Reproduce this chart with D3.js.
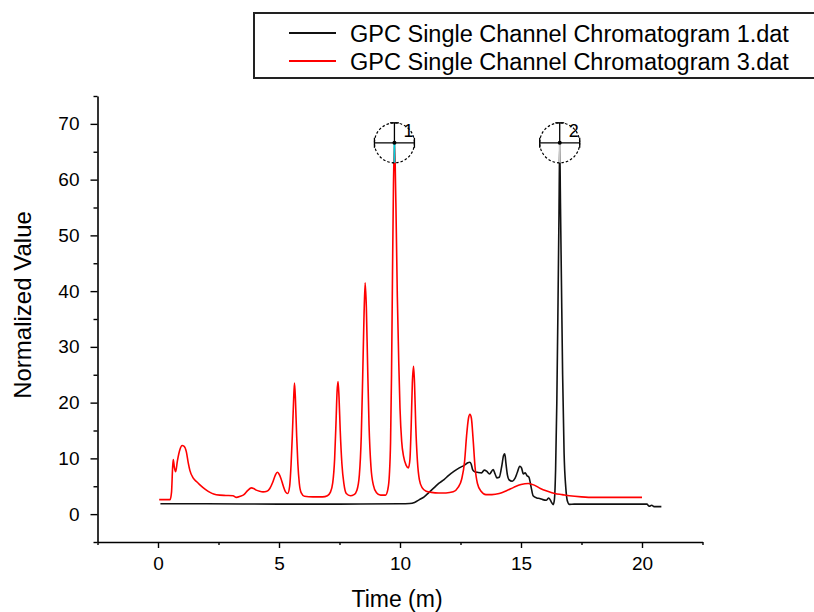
<!DOCTYPE html>
<html>
<head>
<meta charset="utf-8">
<script src="https://cdn.jsdelivr.net/npm/d3@7/dist/d3.min.js"></script>
<style>
  html, body { margin: 0; padding: 0; background: #fff; }
  svg { display: block; }
  text { font-family: "Liberation Sans", Arial, sans-serif; fill: #000; }
</style>
</head>
<body>
<svg id="chart" width="814" height="612"></svg>
<script>
// ---------- data ----------
const seriesNames = ["GPC Single Channel Chromatogram 1.dat", "GPC Single Channel Chromatogram 3.dat"];

const blackTime = [0.1, 2, 5, 7.5, 10, 10.4, 10.6, 10.8, 11.0, 11.2, 11.4, 11.6, 11.82, 12.0, 12.24, 12.45, 12.67, 12.8, 12.88, 12.94, 13.0, 13.09, 13.2, 13.37, 13.48, 13.58, 13.7, 13.85, 13.93, 14.0, 14.1, 14.2, 14.28, 14.33, 14.38, 14.44, 14.5, 14.64, 14.75, 14.85, 14.95, 15.02, 15.1, 15.17, 15.25, 15.33, 15.42, 15.5, 15.65, 15.77, 15.9, 16.05, 16.15, 16.25, 16.33, 16.38, 16.43, 16.48, 16.53, 16.57, 16.6, 16.63, 16.67, 16.72, 16.78, 16.85, 16.92, 17.0, 17.2, 18.0, 19.0, 20.2, 20.3, 20.4, 20.5, 20.8];
const blackValue = [1.85, 1.85, 1.8, 1.8, 1.85, 1.9, 2.1, 2.6, 3.1, 3.9, 4.7, 5.5, 6.2, 6.9, 7.7, 8.3, 8.8, 9.2, 9.3, 9.0, 8.0, 7.6, 7.5, 7.4, 7.9, 7.7, 7.2, 8.0, 7.2, 6.5, 6.6, 8.5, 10.5, 10.8, 9.0, 7.0, 6.2, 5.9, 6.4, 7.5, 8.6, 8.3, 7.2, 7.4, 6.9, 6.6, 4.8, 3.3, 2.9, 2.8, 2.6, 2.5, 2.9, 2.2, 1.7, 2.6, 8, 20, 38, 54, 66.6, 56, 42, 25, 11, 4.8, 2.3, 1.75, 1.8, 1.8, 1.8, 1.8, 1.4, 1.6, 1.35, 1.35];

const redTime = [0.05, 0.5, 0.56, 0.6, 0.63, 0.68, 0.73, 0.8, 0.9, 1.0, 1.07, 1.17, 1.25, 1.32, 1.45, 1.6, 1.72, 1.85, 2.0, 2.15, 2.3, 2.55, 2.8, 3.1, 3.24, 3.4, 3.55, 3.7, 3.86, 3.95, 4.06, 4.2, 4.34, 4.5, 4.62, 4.75, 4.85, 4.93, 5.0, 5.08, 5.18, 5.27, 5.36, 5.44, 5.5, 5.55, 5.6, 5.64, 5.68, 5.73, 5.78, 5.84, 5.92, 6.05, 6.4, 6.8, 7.0, 7.12, 7.22, 7.3, 7.36, 7.4, 7.44, 7.48, 7.53, 7.6, 7.68, 7.78, 7.95, 8.1, 8.22, 8.32, 8.4, 8.46, 8.51, 8.56, 8.61, 8.66, 8.72, 8.8, 8.9, 9.02, 9.2, 9.4, 9.5, 9.56, 9.61, 9.65, 9.69, 9.73, 9.77, 9.8, 9.84, 9.89, 9.95, 10.0, 10.07, 10.15, 10.25, 10.35, 10.41, 10.46, 10.51, 10.56, 10.6, 10.65, 10.72, 10.8, 10.92, 11.08, 11.3, 11.6, 11.9, 12.2, 12.4, 12.55, 12.67, 12.75, 12.83, 12.89, 12.95, 13.02, 13.1, 13.2, 13.35, 13.55, 13.8, 14.1, 14.4, 14.7, 15.0, 15.3, 15.55, 15.8, 16.1, 16.4, 16.7, 17.0, 17.5, 18.0, 19.0, 20.0];
const redValue = [2.6, 2.6, 4, 8, 9.8, 8.3, 7.6, 9.5, 11.5, 12.3, 12.2, 11.2, 9.2, 7.8, 6.5, 5.8, 5.3, 4.8, 4.3, 3.9, 3.6, 3.4, 3.35, 3.3, 3.0, 3.2, 3.5, 4.2, 4.7, 4.6, 4.3, 4.1, 4.0, 4.1, 4.6, 5.8, 7.0, 7.5, 7.2, 6.4, 5.0, 4.0, 3.7, 5.0, 9, 14, 20, 23.5, 20.5, 14, 9, 5.5, 3.8, 3.2, 3.1, 3.1, 3.3, 3.9, 5.6, 10, 17, 22, 23.8, 21, 15, 9, 5.5, 3.7, 3.3, 3.5, 4.3, 7, 14, 25, 35, 41.5, 37, 27, 16, 8.5, 5.2, 3.9, 3.4, 3.4, 4.5, 7, 13, 25, 43, 59, 66.6, 63, 53, 39, 27, 19, 13, 10.3, 8.8, 8.3, 9.8, 15.5, 23.5, 26.5, 23.5, 16, 9.5, 6.2, 4.7, 4.1, 3.9, 3.8, 3.8, 4.0, 4.8, 6.3, 9.5, 14, 17.2, 17.9, 17.2, 13.5, 8.5, 5.5, 4.1, 3.5, 3.5, 3.7, 4.2, 4.8, 5.3, 5.5, 5.2, 4.6, 4.1, 3.7, 3.5, 3.3, 3.1, 3.0, 3.0, 3.0];

const peakLabels = ["1", "2"];
const peakTime = [9.77, 16.6];
const peakValue = [66.6, 66.6];

const xMajorTicks = [0, 5, 10, 15, 20];
const xMinorTicks = [-2.5, 2.5, 7.5, 12.5, 17.5, 22.5];
const yMajorTicks = [0, 10, 20, 30, 40, 50, 60, 70];
const yMinorTicks = [-5, 5, 15, 25, 35, 45, 55, 65, 75];

const xTitle = "Time (m)";
const yTitle = "Normalized Value";

// ---------- drawing ----------
const svg = d3.select("#chart");
const x = d3.scaleLinear().domain([-2.5, 22.5]).range([97.5, 702.5]);
const y = d3.scaleLinear().domain([-5, 75]).range([542, 96]);

// axes
const gx = svg.append("g").attr("transform", `translate(0,${y(-5)})`);
gx.call(d3.axisBottom(x).tickValues(xMajorTicks).tickSize(6).tickSizeOuter(0).tickPadding(9).tickFormat(d3.format("d")));
const gxm = svg.append("g").attr("transform", `translate(0,${y(-5)})`);
gxm.call(d3.axisBottom(x).tickValues(xMinorTicks).tickSize(3).tickSizeOuter(0).tickFormat(""));
gxm.select(".domain").remove();

const gy = svg.append("g").attr("transform", `translate(${x(-2.5)},0)`);
gy.call(d3.axisLeft(y).tickValues(yMajorTicks).tickSize(7).tickSizeOuter(0).tickPadding(11).tickFormat(d3.format("d")));
const gym = svg.append("g").attr("transform", `translate(${x(-2.5)},0)`);
gym.call(d3.axisLeft(y).tickValues(yMinorTicks).tickSize(4).tickSizeOuter(0).tickFormat(""));
gym.select(".domain").remove();

svg.selectAll(".domain").attr("stroke", "#000").attr("stroke-width", 1.6);
svg.selectAll(".tick line").attr("stroke", "#000").attr("stroke-width", 1.4);
svg.selectAll(".tick text").attr("font-size", 19).attr("font-family", "Liberation Sans, Arial, sans-serif").attr("fill", "#222");

// axis titles
svg.append("text").attr("x", 397).attr("y", 607).attr("text-anchor", "middle")
  .attr("font-size", 23).attr("fill", "#222").text(xTitle);
svg.append("text").attr("transform", "translate(31,305) rotate(-90)").attr("text-anchor", "middle")
  .attr("font-size", 24).attr("fill", "#222").text(yTitle);

// curves
const line = d3.line().x(d => x(d[0])).y(d => y(d[1])).curve(d3.curveMonotoneX);
const blackData = blackTime.map((t, i) => [t, blackValue[i]]);
const redData = redTime.map((t, i) => [t, redValue[i]]);

svg.append("path").datum(blackData).attr("d", line)
  .attr("fill", "none").attr("stroke", "#111").attr("stroke-width", 1.6).attr("stroke-linejoin", "round");
svg.append("path").datum(redData).attr("d", line)
  .attr("fill", "none").attr("stroke", "#ff0000").attr("stroke-width", 1.6).attr("stroke-linejoin", "round");

// peak markers
const R = 20;
const markerStem = ["#00d0dc", "#c8c8c8"];
peakTime.forEach((t, i) => {
  const cx = x(t), cy = y(peakValue[i]);
  const g = svg.append("g");
  g.append("line").attr("x1", cx).attr("x2", cx).attr("y1", cy).attr("y2", cy + R)
    .attr("stroke", markerStem[i]).attr("stroke-width", 2);
  g.append("circle").attr("cx", cx).attr("cy", cy).attr("r", R)
    .attr("fill", "none").attr("stroke", "#000").attr("stroke-width", 1.2).attr("stroke-dasharray", "2.5,2");
  g.append("line").attr("x1", cx - R).attr("x2", cx + R).attr("y1", cy).attr("y2", cy)
    .attr("stroke", "#000").attr("stroke-width", 1.3);
  [cx - R, cx + R].forEach(ex => g.append("line").attr("x1", ex).attr("x2", ex).attr("y1", cy - 5).attr("y2", cy + 5)
    .attr("stroke", "#000").attr("stroke-width", 1.3));
  g.append("line").attr("x1", cx).attr("x2", cx).attr("y1", cy).attr("y2", cy - R)
    .attr("stroke", "#000").attr("stroke-width", 1.3);
  g.append("line").attr("x1", cx - 4.5).attr("x2", cx + 4.5).attr("y1", cy - R).attr("y2", cy - R)
    .attr("stroke", "#000").attr("stroke-width", 1.3);
  g.append("circle").attr("cx", cx).attr("cy", cy).attr("r", 2).attr("fill", "#000");
  g.append("text").attr("x", cx + 9).attr("y", cy - 6).attr("font-size", 18).attr("fill", "#111").text(peakLabels[i]);
});

// legend
const lg = svg.append("g");
lg.append("rect").attr("x", 254).attr("y", 13).attr("width", 600).attr("height", 65)
  .attr("fill", "#fff").attr("stroke", "#222").attr("stroke-width", 2);
const legendColors = ["#111", "#ff0000"];
seriesNames.forEach((name, i) => {
  const ly = 33 + i * 28;
  lg.append("line").attr("x1", 289).attr("x2", 336).attr("y1", ly).attr("y2", ly)
    .attr("stroke", legendColors[i]).attr("stroke-width", 2);
  lg.append("text").attr("x", 350).attr("y", ly + 8.5).attr("font-size", 23.5).attr("fill", "#222").text(name);
});
</script>
</body>
</html>
